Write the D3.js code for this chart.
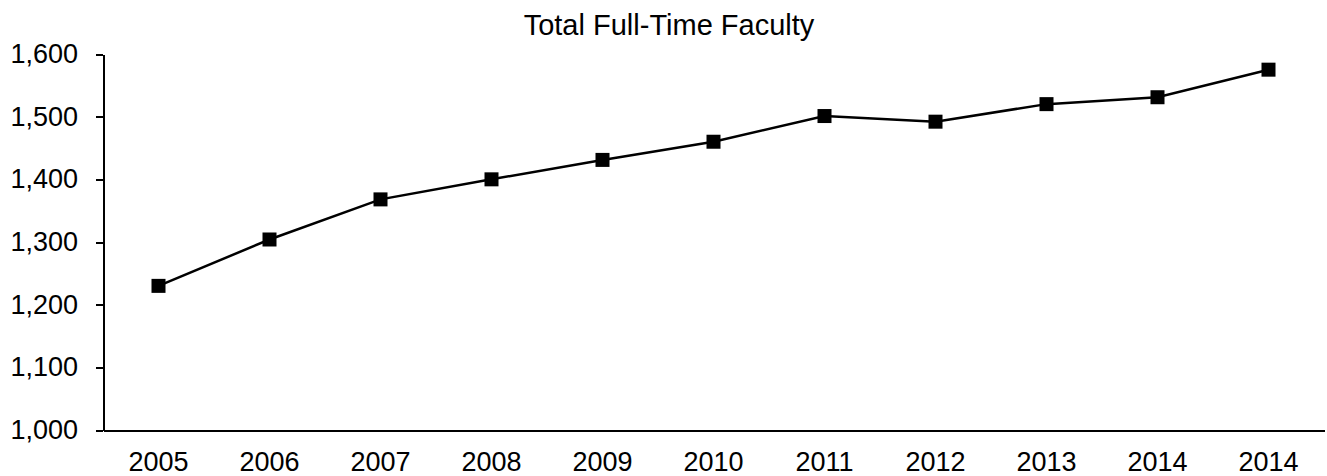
<!DOCTYPE html>
<html lang="en">
<head>
    <meta charset="UTF-8">
    <title>Total Full-Time Faculty</title>
    <style>
        body { margin: 0; background: #fff; }
        svg { display: block; font-family: "Liberation Sans", Arial, sans-serif; }
        .axis path, .axis line { stroke: #000; stroke-width: 2px; shape-rendering: crispEdges; }
        .axis text { fill: #000; font-size: 27px; }
        .line { fill: none; stroke: #000; stroke-width: 2.5px; }
        .dot { fill: #000; }
    </style>
</head>
<body>
    <svg width="1327" height="476"></svg>
    <script src="https://d3js.org/d3.v7.min.js"></script>
    <script>
        // data
        var years = ["2005", "2006", "2007", "2008", "2009", "2010", "2011", "2012", "2013", "2014", "2014"];
        var faculty = [1230, 1304, 1368, 1400, 1431, 1460, 1501, 1492, 1520, 1531, 1575];
        var yTicks = [1000, 1100, 1200, 1300, 1400, 1500, 1600];
        var title = "Total Full-Time Faculty";

        var svg = d3.select("svg"),
            margin = {top: 54, right: 3, bottom: 46, left: 103},
            width = +svg.attr("width") - margin.left - margin.right,
            height = +svg.attr("height") - margin.top - margin.bottom;

        var idx = d3.range(years.length);

        var x = d3.scaleBand().domain(idx).range([0, width]);
        var y = d3.scaleLinear().domain([1000, 1600]).range([height, 0]);

        var g = svg.append("g")
            .attr("transform", "translate(" + margin.left + "," + margin.top + ")");

        g.append("g")
            .attr("class", "axis axis--x")
            .attr("transform", "translate(0," + height + ")")
            .call(d3.axisBottom(x).tickSize(0).tickSizeOuter(0)
                .tickFormat(function(i) { return years[i]; }))
            .call(function(a) { a.selectAll("text").attr("dy", "0.71em").attr("y", 22); });

        g.append("g")
            .attr("class", "axis axis--y")
            .call(d3.axisLeft(y).tickValues(yTicks).tickSize(7).tickSizeOuter(0)
                .tickPadding(18).tickFormat(d3.format(",")));

        var line = d3.line()
            .x(function(d, i) { return x(i) + x.bandwidth() / 2; })
            .y(function(d) { return y(d); });

        g.append("path")
            .datum(faculty)
            .attr("class", "line")
            .attr("d", line);

        var s = 14;
        g.selectAll(".dot")
            .data(faculty)
            .enter().append("rect")
            .attr("class", "dot")
            .attr("x", function(d, i) { return x(i) + x.bandwidth() / 2 - s / 2; })
            .attr("y", function(d) { return y(d) - s / 2; })
            .attr("width", s)
            .attr("height", s);

        svg.append("text")
            .attr("x", 669)
            .attr("y", 35)
            .attr("text-anchor", "middle")
            .style("font-size", "29px")
            .text(title);
    </script>
</body>
</html>
